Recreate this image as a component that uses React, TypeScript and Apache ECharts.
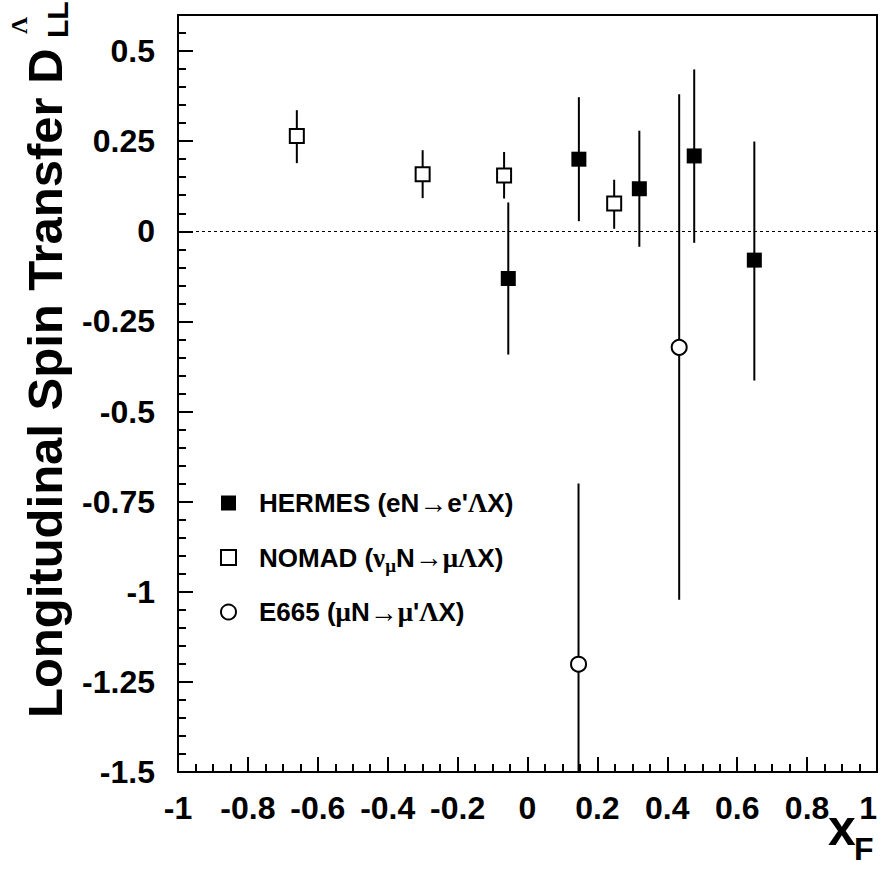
import React, { useEffect, useRef } from "react";
import * as echarts from "echarts";

// HERMES (filled squares)
const hermesX = [-0.055, 0.147, 0.32, 0.477, 0.649];
const hermesY = [-0.131, 0.2, 0.118, 0.209, -0.08];
const hermesLo = [-0.342, 0.028, -0.043, -0.032, -0.414];
const hermesHi = [0.08, 0.372, 0.279, 0.449, 0.249];

// NOMAD (open squares)
const nomadX = [-0.66, -0.3, -0.067, 0.248];
const nomadY = [0.264, 0.158, 0.155, 0.077];
const nomadLo = [0.189, 0.092, 0.091, 0.007];
const nomadHi = [0.336, 0.225, 0.22, 0.143];

// E665 (open circles)
const e665X = [0.146, 0.434];
const e665Y = [-1.201, -0.322];
const e665Lo = [-1.72, -1.022];
const e665Hi = [-0.7, 0.38];

const seriesNames = ["HERMES", "NOMAD", "E665"];
const legendLabels: Record<string, string> = {
  HERMES: "HERMES (eN{a|→}e'{g|Λ}X)",
  NOMAD: "NOMAD ({g|ν}{sub|μ}N{a|→}{g|μΛ}X)",
  E665: "E665 ({g|μ}N{a|→}{g|μ}'{g|Λ}X)",
};

const xTicks = { min: -1, max: 1, interval: 0.2 };
const yTicks = { min: -1.5, max: 0.6, interval: 0.25, minor: 0.05 };

const FONT = '"Liberation Sans", Arial, Helvetica, sans-serif';
const SERIF = '"Liberation Serif", "DejaVu Serif", serif';

export default function App() {
  const ref = useRef<HTMLDivElement>(null);
  useEffect(() => {
    const chart = echarts.init(ref.current!, null, { renderer: "svg" });

    const errData = [
      ...hermesX.map((x, i) => [x, hermesLo[i], hermesHi[i]]),
      ...nomadX.map((x, i) => [x, nomadLo[i], nomadHi[i]]),
      ...e665X.map((x, i) => [x, e665Lo[i], e665Hi[i]]),
    ];

    const axisLabelStyle = {
      color: "#000",
      fontSize: 32,
      fontWeight: "bold" as const,
      fontFamily: FONT,
    };

    const option: any = {
      animation: false,
      backgroundColor: "#fff",
      grid: {
        left: 178,
        right: 4,
        top: 15,
        bottom: 109,
        show: true,
        borderColor: "#000",
        borderWidth: 2,
        backgroundColor: "transparent",
        containLabel: false,
        outerBoundsMode: "none",
      },
      xAxis: [
        {
          type: "value",
          min: xTicks.min,
          max: xTicks.max,
          interval: xTicks.interval,
          axisLine: { show: true, onZero: false, lineStyle: { color: "#000", width: 2 } },
          axisTick: { show: true, inside: true, length: 15, lineStyle: { color: "#000", width: 2 } },
          minorTick: { show: true, splitNumber: 4, length: 8, lineStyle: { color: "#000", width: 2 } },
          splitLine: { show: false },
          axisLabel: { ...axisLabelStyle, margin: 20, alignMaxLabel: "right" },
        },
      ],
      yAxis: [
        {
          type: "value",
          min: yTicks.min,
          max: yTicks.max,
          interval: yTicks.interval,
          axisLine: { show: true, onZero: false, lineStyle: { color: "#000", width: 2 } },
          axisTick: { show: true, inside: true, length: 15, lineStyle: { color: "#000", width: 2 } },
          splitLine: { show: false },
          axisLabel: { ...axisLabelStyle, margin: 23, showMaxLabel: false },
        },
        {
          type: "value",
          min: yTicks.min,
          max: yTicks.max,
          interval: yTicks.minor,
          position: "left",
          offset: 0,
          axisLine: { show: false, onZero: false },
          axisTick: { show: true, inside: true, length: 8, lineStyle: { color: "#000", width: 2 } },
          splitLine: { show: false },
          axisLabel: { show: false },
        },
      ],
      legend: {
        orient: "vertical",
        left: 220,
        top: 486,
        padding: 0,
        itemWidth: 15,
        itemHeight: 15,
        itemGap: 20,
        data: seriesNames,
        formatter: (name: string) => legendLabels[name],
        textStyle: {
          color: "#000",
          fontSize: 26,
          fontWeight: "bold",
          fontFamily: FONT,
          lineHeight: 34,
          padding: [0, 0, 0, 18],
          rich: {
            g: { fontFamily: SERIF, fontSize: 27, fontWeight: "bold", color: "#000", lineHeight: 34 },
            a: { fontFamily: FONT, fontSize: 28, fontWeight: "bold", color: "#000", lineHeight: 34 },
            sub: {
              fontFamily: SERIF,
              fontSize: 19,
              fontWeight: "bold",
              color: "#000",
              lineHeight: 18,
              padding: [16, 0, 0, 0],
            },
          },
        },
      },
      graphic: [
        {
          type: "text",
          x: 45,
          y: 718,
          rotation: Math.PI / 2,
          style: {
            text: "Longitudinal Spin Transfer D",
            fontSize: 49,
            fontWeight: "bold",
            fontFamily: FONT,
            fill: "#000",
            align: "left",
            verticalAlign: "middle",
          },
        },
        {
          type: "text",
          x: 57,
          y: 38,
          rotation: Math.PI / 2,
          style: {
            text: "LL",
            fontSize: 30,
            fontWeight: "bold",
            fontFamily: FONT,
            fill: "#000",
            align: "left",
            verticalAlign: "middle",
          },
        },
        {
          type: "text",
          x: 19,
          y: 34,
          rotation: Math.PI / 2,
          style: {
            text: "Λ",
            fontSize: 24,
            fontWeight: "bold",
            fontFamily: SERIF,
            fill: "#000",
            align: "left",
            verticalAlign: "middle",
          },
        },
        {
          type: "text",
          x: 828,
          y: 828,
          style: {
            text: "x",
            fontSize: 50,
            fontWeight: "bold",
            fontFamily: FONT,
            fill: "#000",
            align: "left",
            verticalAlign: "middle",
          },
        },
        {
          type: "text",
          x: 854,
          y: 849,
          style: {
            text: "F",
            fontSize: 32,
            fontWeight: "bold",
            fontFamily: FONT,
            fill: "#000",
            align: "left",
            verticalAlign: "middle",
          },
        },
      ],
      series: [
        {
          type: "custom",
          name: "errors",
          clip: true,
          z: 2,
          data: errData,
          encode: { x: 0, y: [1, 2] },
          renderItem: (params: any, api: any) => {
            const x = api.value(0);
            const p1 = api.coord([x, api.value(1)]);
            const p2 = api.coord([x, api.value(2)]);
            return {
              type: "line",
              shape: { x1: p1[0], y1: p1[1], x2: p2[0], y2: p2[1] },
              style: { stroke: "#000", lineWidth: 2 },
            };
          },
          markLine: {
            silent: true,
            symbol: "none",
            label: { show: false },
            lineStyle: { color: "#000", width: 1, type: [3, 3] },
            data: [{ yAxis: 0 }],
          },
        },
        {
          type: "scatter",
          name: "HERMES",
          z: 5,
          symbol: "rect",
          symbolSize: 15,
          itemStyle: { color: "#000", borderColor: "#000", borderWidth: 0, opacity: 1 },
          data: hermesX.map((x, i) => [x, hermesY[i]]),
        },
        {
          type: "scatter",
          name: "NOMAD",
          z: 5,
          symbol: "rect",
          symbolSize: 14,
          itemStyle: { color: "#fff", borderColor: "#000", borderWidth: 2, opacity: 1 },
          data: nomadX.map((x, i) => [x, nomadY[i]]),
        },
        {
          type: "scatter",
          name: "E665",
          z: 5,
          symbol: "circle",
          symbolSize: 15,
          itemStyle: { color: "#fff", borderColor: "#000", borderWidth: 2, opacity: 1 },
          data: e665X.map((x, i) => [x, e665Y[i]]),
        },
      ],
    };

    chart.setOption(option);
    return () => chart.dispose();
  }, []);

  return (
    <div
      ref={ref}
      style={{ position: "absolute", left: 0, top: 0, width: 881, height: 881 }}
    />
  );
}
